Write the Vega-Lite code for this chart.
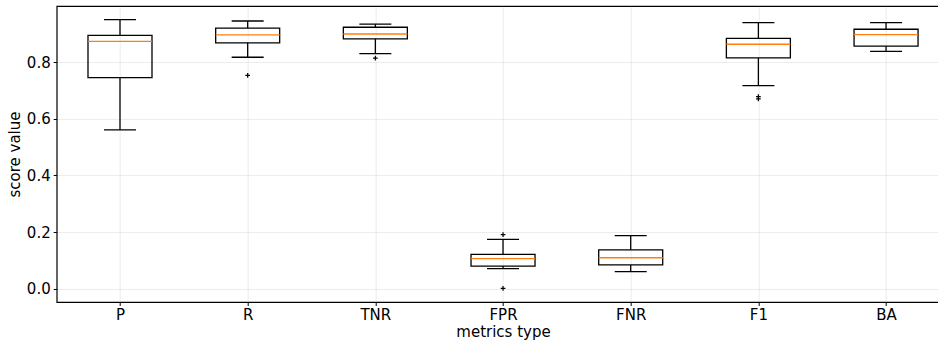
{
  "$schema": "https://vega.github.io/schema/vega-lite/v6.json",
  "width": 882,
  "height": 296,
  "autosize": {"type": "none"},
  "padding": {"left": 56.7, "top": 6, "right": 0, "bottom": 39},
  "background": "#ffffff",
  "datasets": {
    "boxes": [
      {"metric": "P", "lower": 0.561, "q1": 0.745, "median": 0.873, "q3": 0.894, "upper": 0.950},
      {"metric": "R", "lower": 0.817, "q1": 0.868, "median": 0.896, "q3": 0.920, "upper": 0.945},
      {"metric": "TNR", "lower": 0.830, "q1": 0.882, "median": 0.899, "q3": 0.923, "upper": 0.934},
      {"metric": "FPR", "lower": 0.071, "q1": 0.080, "median": 0.106, "q3": 0.121, "upper": 0.174},
      {"metric": "FNR", "lower": 0.060, "q1": 0.084, "median": 0.109, "q3": 0.137, "upper": 0.187},
      {"metric": "F1", "lower": 0.717, "q1": 0.815, "median": 0.863, "q3": 0.884, "upper": 0.939},
      {"metric": "BA", "lower": 0.838, "q1": 0.856, "median": 0.897, "q3": 0.916, "upper": 0.939}
    ],
    "fliers": [
      {"metric": "R", "value": 0.753},
      {"metric": "TNR", "value": 0.814},
      {"metric": "FPR", "value": 0.191},
      {"metric": "FPR", "value": 0.001},
      {"metric": "F1", "value": 0.678},
      {"metric": "F1", "value": 0.670}
    ]
  },
  "config": {
    "view": {"stroke": "#000000", "strokeWidth": 1.2},
    "font": "DejaVu Sans",
    "axis": {
      "domain": false,
      "labelFont": "DejaVu Sans",
      "labelFontSize": 15,
      "labelColor": "#000000",
      "titleFont": "DejaVu Sans",
      "titleFontSize": 15,
      "titleFontWeight": "normal",
      "titleColor": "#000000",
      "tickColor": "#000000",
      "tickSize": 3.5,
      "tickWidth": 1,
      "gridColor": "#b0b0b0",
      "gridOpacity": 0.3,
      "gridWidth": 0.8
    }
  },
  "layer": [
    {
      "data": {"name": "boxes"},
      "mark": {"type": "rule", "color": "#000000", "strokeWidth": 1.3},
      "encoding": {
        "x": {
          "field": "metric", "type": "nominal",
          "scale": {"type": "point", "domain": ["P", "R", "TNR", "FPR", "FNR", "F1", "BA"], "padding": 0.454, "align": 0.546},
          "axis": {"title": "metrics type", "labelAngle": 0, "grid": true, "labelPadding": 2.5, "titleX": 446.3, "titleY": 34.5, "titleBaseline": "alphabetic", "titleAlign": "center"}
        },
        "y": {
          "field": "lower", "type": "quantitative",
          "scale": {"domain": [-0.047, 0.998], "nice": false, "zero": false},
          "axis": {"title": "score value", "values": [0, 0.2, 0.4, 0.6, 0.8], "format": ".1f", "grid": true, "labelPadding": 3, "titleX": -41.7, "titleY": 148, "titleBaseline": "middle", "titleAlign": "center"}
        },
        "y2": {"field": "q1"}
      }
    },
    {
      "data": {"name": "boxes"},
      "mark": {"type": "rule", "color": "#000000", "strokeWidth": 1.3},
      "encoding": {
        "x": {"field": "metric", "type": "nominal"},
        "y": {"field": "q3", "type": "quantitative"},
        "y2": {"field": "upper"}
      }
    },
    {
      "data": {"name": "boxes"},
      "mark": {"type": "tick", "color": "#000000", "size": 32, "thickness": 1.3, "opacity": 1},
      "encoding": {
        "x": {"field": "metric", "type": "nominal"},
        "y": {"field": "lower", "type": "quantitative"}
      }
    },
    {
      "data": {"name": "boxes"},
      "mark": {"type": "tick", "color": "#000000", "size": 32, "thickness": 1.3, "opacity": 1},
      "encoding": {
        "x": {"field": "metric", "type": "nominal"},
        "y": {"field": "upper", "type": "quantitative"}
      }
    },
    {
      "data": {"name": "boxes"},
      "mark": {"type": "bar", "size": 64, "fill": "#ffffff", "fillOpacity": 0, "stroke": "#000000", "strokeWidth": 1.3},
      "encoding": {
        "x": {"field": "metric", "type": "nominal"},
        "y": {"field": "q1", "type": "quantitative"},
        "y2": {"field": "q3"}
      }
    },
    {
      "data": {"name": "boxes"},
      "mark": {"type": "tick", "color": "#ff7f0e", "size": 64, "thickness": 1.4, "opacity": 1},
      "encoding": {
        "x": {"field": "metric", "type": "nominal"},
        "y": {"field": "median", "type": "quantitative"}
      }
    },
    {
      "data": {"name": "fliers"},
      "mark": {"type": "point", "shape": "M-1,0L1,0M0,-1L0,1", "filled": false, "stroke": "#000000", "strokeWidth": 1.2, "size": 22, "opacity": 1},
      "encoding": {
        "x": {"field": "metric", "type": "nominal"},
        "y": {"field": "value", "type": "quantitative"}
      }
    }
  ]
}
